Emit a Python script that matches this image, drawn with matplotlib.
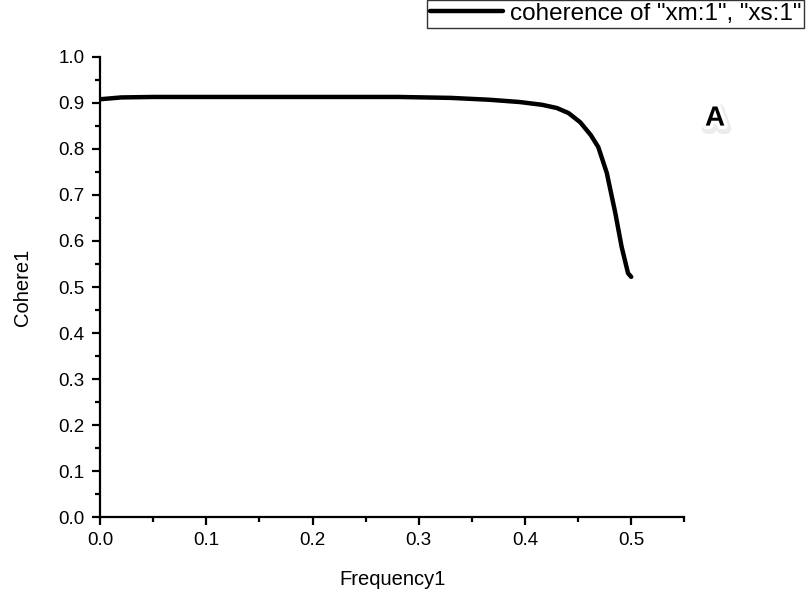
import matplotlib
matplotlib.use("Agg")
import matplotlib.pyplot as plt
import matplotlib.patheffects as pe
from matplotlib.ticker import MultipleLocator

frequency = [0.0, 0.02, 0.05, 0.1, 0.15, 0.2, 0.25, 0.281, 0.33, 0.366, 0.395,
             0.416, 0.43, 0.441, 0.452, 0.462, 0.469, 0.477, 0.485, 0.491,
             0.497, 0.5]
cohere = [0.908, 0.912, 0.913, 0.913, 0.913, 0.913, 0.913, 0.913, 0.911, 0.907,
          0.902, 0.896, 0.889, 0.878, 0.858, 0.830, 0.804, 0.748, 0.661, 0.587,
          0.530, 0.522]
legend_label = 'coherence of "xm:1", "xs:1"'

plt.rcParams['font.family'] = ['Liberation Sans', 'DejaVu Sans']

fig = plt.figure(figsize=(8.07, 5.93), dpi=100)
ax = fig.add_axes([0.124, 0.128, 0.724, 0.776])

line, = ax.plot(frequency, cohere, color='black', lw=3.2, solid_capstyle='round',
                solid_joinstyle='round')

ax.set_xlim(0, 0.55)
ax.set_ylim(0, 1.0)
ax.xaxis.set_major_locator(MultipleLocator(0.1))
ax.xaxis.set_minor_locator(MultipleLocator(0.05))
ax.yaxis.set_major_locator(MultipleLocator(0.1))
ax.yaxis.set_minor_locator(MultipleLocator(0.05))
ax.xaxis.set_major_formatter(plt.FuncFormatter(lambda v, p: f"{v:.1f}"))
ax.yaxis.set_major_formatter(plt.FuncFormatter(lambda v, p: f"{v:.1f}"))

for s in ['top', 'right']:
    ax.spines[s].set_visible(False)
for s in ['left', 'bottom']:
    ax.spines[s].set_linewidth(1.6)
ax.tick_params(which='major', direction='out', length=6, width=1.6, labelsize=13.5, pad=5)
ax.tick_params(which='minor', direction='out', length=3.5, width=1.6)

ax.set_xlabel('Frequency1', fontsize=14.5, labelpad=15)
ax.set_ylabel('Cohere1', fontsize=14.5, labelpad=19)

leg = fig.legend([line], [legend_label], loc='upper left',
                 bbox_to_anchor=(0.529, 1.0), fontsize=17.5, frameon=True,
                 fancybox=False, edgecolor='black', handlelength=3.0,
                 handletextpad=0.3, borderpad=0.12, borderaxespad=0)
leg.get_frame().set_linewidth(1.0)

fig.text(0.886, 0.80, 'A', fontsize=20, fontweight='bold', ha='center', va='center',
         path_effects=[pe.withStroke(linewidth=8, foreground='#ececec', offset=(1, -2)),
                       pe.withStroke(linewidth=5, foreground='white')])

fig.savefig('out.png', dpi=100)
